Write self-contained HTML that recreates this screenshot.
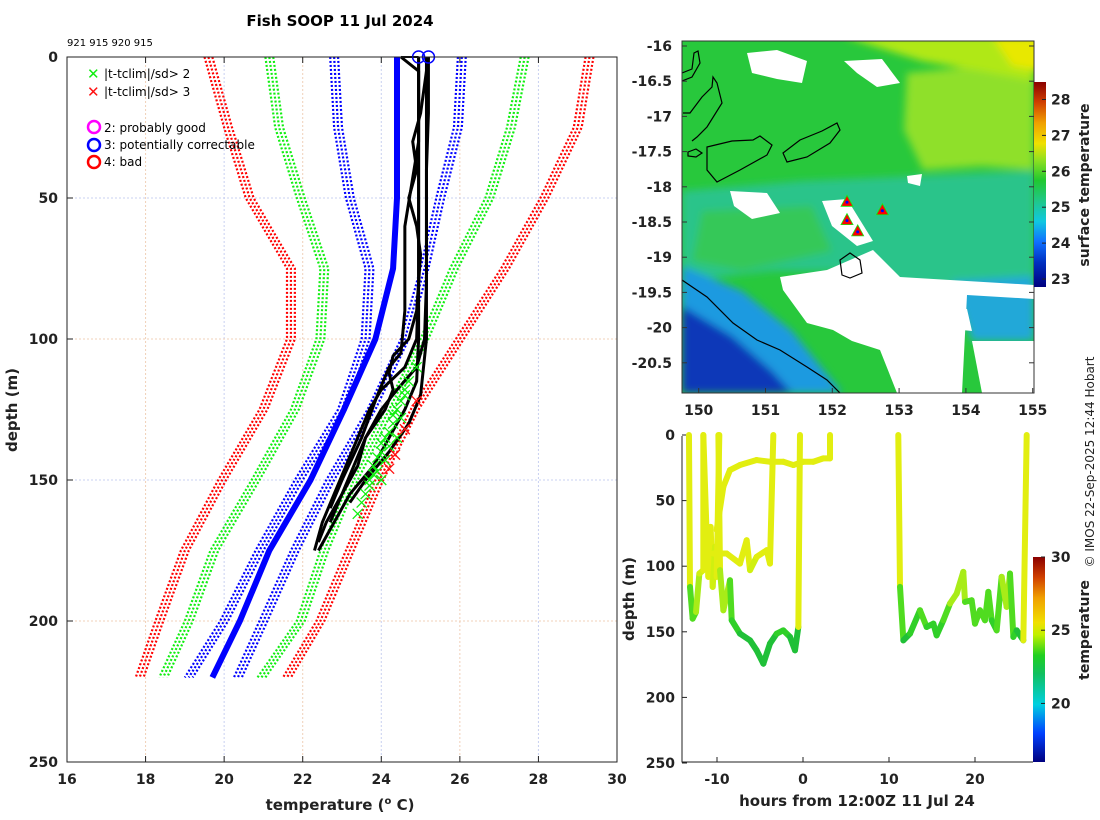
<!DOCTYPE html>
<html><head><meta charset="utf-8"><style>
html,body{margin:0;padding:0;background:#fff;}
svg{display:block;font-family:"DejaVu Sans","Liberation Sans",sans-serif;}
.tk{font-weight:bold;font-size:14px;fill:#222;}
</style></head><body>
<svg id="s" width="1100" height="820" viewBox="0 0 1100 820">
<defs>
<linearGradient id="cbMap" x1="0" y1="1" x2="0" y2="0">
<stop offset="0" stop-color="#00007f"/><stop offset="0.12" stop-color="#0030c0"/><stop offset="0.22" stop-color="#1070ff"/>
<stop offset="0.32" stop-color="#10c8e0"/><stop offset="0.42" stop-color="#20c888"/><stop offset="0.52" stop-color="#20c830"/>
<stop offset="0.62" stop-color="#90e020"/><stop offset="0.7" stop-color="#f0e000"/><stop offset="0.8" stop-color="#f0a000"/>
<stop offset="0.9" stop-color="#d04000"/><stop offset="1" stop-color="#8a0000"/></linearGradient>
<linearGradient id="cbT" x1="0" y1="1" x2="0" y2="0">
<stop offset="0" stop-color="#00007f"/><stop offset="0.14" stop-color="#0040ff"/><stop offset="0.28" stop-color="#00d0e0"/>
<stop offset="0.43" stop-color="#10c060"/><stop offset="0.52" stop-color="#20d020"/><stop offset="0.62" stop-color="#c0f000"/>
<stop offset="0.68" stop-color="#f0e000"/><stop offset="0.8" stop-color="#f0a000"/><stop offset="0.9" stop-color="#d04000"/>
<stop offset="1" stop-color="#8a0000"/></linearGradient>
<clipPath id="mapClip"><rect x="682" y="41" width="352" height="352"/></clipPath>
<filter id="soft"><feGaussianBlur stdDeviation="4"/></filter>
</defs>

<text x="340" y="26" text-anchor="middle" font-weight="bold" font-size="15">Fish SOOP 11 Jul 2024</text>
<text x="67" y="46" font-size="10">921 915 920 915</text>
<text transform="translate(17,410) rotate(-90)" text-anchor="middle" font-weight="bold" font-size="15" fill="#222">depth (m)</text>
<text x="340" y="810" text-anchor="middle" font-weight="bold" font-size="15" fill="#222">temperature (<tspan dy="-6" font-size="10">o</tspan><tspan dy="6"> C)</tspan></text>

<g id="left"></g>
<g id="legend">
 <text x="87" y="79" fill="#1e1" font-size="15" font-weight="bold">✕</text>
 <text x="104" y="78" font-size="12">|t-tclim|/sd&gt; 2</text>
 <text x="87" y="97" fill="#f11" font-size="15" font-weight="bold">✕</text>
 <text x="104" y="96" font-size="12">|t-tclim|/sd&gt; 3</text>
 <circle cx="94" cy="127" r="6" fill="none" stroke="#f0f" stroke-width="2.5"/>
 <text x="104" y="132" font-size="12">2: probably good</text>
 <circle cx="94" cy="145" r="6" fill="none" stroke="#00f" stroke-width="2.5"/>
 <text x="104" y="149" font-size="12">3: potentially correctable</text>
 <circle cx="94" cy="162" r="6" fill="none" stroke="#f00" stroke-width="2.5"/>
 <text x="104" y="166" font-size="12">4: bad</text>
</g>

<g id="map">
 <g clip-path="url(#mapClip)">
  <rect x="682" y="41" width="352" height="352" fill="#28c83c"/>
  <g transform="translate(682,41)" filter="url(#soft)">
   <polygon points="0,150 120,140 352,130 352,260 250,262 180,230 90,230 0,240" fill="#2cc48a"/>
   <polygon points="20,170 130,165 150,210 60,230 10,220" fill="#34c858"/>
   <polygon points="225,32 352,20 352,129 300,125 241,129 222,89" fill="#8fe02a"/>
   <polygon points="160,-5 352,-5 352,40 300,30 240,20" fill="#b0e818"/>
   <polygon points="310,-5 360,-5 360,30 330,25" fill="#e8e800"/>
   <polygon points="0,225 60,250 110,290 160,352 0,352" fill="#1a9ae0"/>
   <polygon points="0,265 50,295 90,330 110,352 0,352" fill="#0838b8"/>
   <polygon points="270,240 352,235 352,300 290,300" fill="#20a8d8"/>
  </g>
  <g transform="translate(682,41)" fill="#fff">
   <polygon points="98,236 145,229 191,209 218,236 352,244 352,258 285,254 280,352 215,352 198,309 170,300 151,289 125,282 101,249"/>
   <polygon points="230,262 285,268 290,290 240,285"/>
   <polygon points="290,300 352,300 352,352 300,352"/>
   <polygon points="65,12 95,9 125,20 120,42 95,38 70,32"/>
   <polygon points="162,20 200,18 218,42 195,46 175,32"/>
   <polygon points="48,150 85,152 98,172 70,178 52,165"/>
   <polygon points="140,160 165,158 191,200 175,205 150,185"/>
   <polygon points="225,135 240,133 238,145 226,142"/>
  </g>
  <g transform="translate(682,41)" fill="none" stroke="#000" stroke-width="1.2">
   <polygon points="25,106 50,100 71,99 78,95 90,104 85,114 58,129 35,141 25,129"/>
   <polygon points="101,112 118,99 140,90 155,82 158,89 148,102 125,116 105,121"/>
   <polyline points="1,72 8,72 20,56 30,46 31,36 35,42 40,62 25,86 15,96 10,100"/>
   <polyline points="0,40 10,36 18,22 16,10 12,12 10,28 0,32"/>
   <polygon points="6,111 14,108 20,112 14,116 6,115"/>
   <polygon points="158,219 168,212 178,219 180,232 168,237 160,234"/>
   <polyline points="0,239 25,256 51,282 75,299 98,309 125,326 145,339 158,352"/>
  </g>
  <g id="tri"></g>
 </g>
 <rect x="682" y="41" width="352" height="352" fill="none" stroke="#333"/>
 <g id="mapTicks"></g>
 <rect x="1034" y="82" width="12" height="205" fill="url(#cbMap)"/>
 <g id="mapCb"></g>
 <text transform="translate(1089,185) rotate(-90)" text-anchor="middle" font-weight="bold" font-size="14" fill="#222">surface temperature</text>
</g>

<g id="br"></g>
<rect x="1033" y="557" width="12" height="205" fill="url(#cbT)"/>
<g id="tCb"></g>
<text transform="translate(1089,630) rotate(-90)" text-anchor="middle" font-weight="bold" font-size="14" fill="#222">temperature</text>
<text transform="translate(1094,462) rotate(-90)" text-anchor="middle" font-size="12" fill="#222">© IMOS 22-Sep-2025 12:44 Hobart</text>
</svg>
<script>
// ---------- data: left profile plot ----------
const envDepths = [0,25,50,75,100,125,150,175,200,220];
const redLeft   = [19.6,20.1,20.65,21.7,21.7,21.0,19.95,19.0,18.35,17.85];
const greenLeft = [21.15,21.4,21.95,22.55,22.45,21.8,20.8,19.75,19.1,18.45];
const blueLeft  = [22.8,22.9,23.2,23.7,23.6,23.0,21.9,20.9,20.0,19.1];
const climMean  = [24.4,24.4,24.4,24.3,23.85,23.05,22.2,21.15,20.4,19.7];
const blueRight = [26.05,25.95,25.5,25.1,24.6,23.75,22.7,21.8,21.0,20.35];
const greenRight= [27.65,27.3,26.75,25.85,25.1,24.2,23.3,22.55,21.95,20.95];
const redRight  = [29.3,29.0,28.15,27.15,26.0,24.85,23.95,23.2,22.45,21.6];
const profDepths = [
 [0,20,40,60,80,100,110,118,125,135,145,155,165,172],
 [0,20,40,60,80,100,110,118,125,135,145,155,165,175],
 [0,10,20,30,40,50,60,70,80,90,100,106,112,118,125,135,145,155,165],
 [0,5,30,60,90,105,110,120,135,150,160],
 [0,100,115,125,135,145,155,165,175],
 [0,100,120,130,140,150,158]];
const profTemps = [
 [25.2,25.2,25.15,25.15,25.15,25.1,24.9,24.4,24.0,23.6,23.3,23.0,22.6,22.4],
 [24.95,24.95,24.95,24.95,24.95,24.9,24.6,24.0,23.7,23.4,23.1,22.8,22.5,22.3],
 [25.2,25.1,25.0,24.8,24.9,24.7,24.9,25.0,24.95,24.9,24.7,24.3,24.2,24.3,24.1,23.6,23.4,23.0,22.7],
 [24.5,24.95,24.95,24.6,24.6,24.5,24.2,23.9,23.5,23.0,22.7],
 [24.95,24.95,24.9,24.6,24.2,23.8,23.2,22.8,22.4],
 [25.15,25.15,25.0,24.7,24.2,23.6,23.2]];
const flag2T = [24.9,24.7,24.6,24.5,24.4,24.3,24.3,24.2,24.1,24.0,24.0,23.9,23.8,23.8,23.7,23.6,24.4,24.2,24.1,23.9,23.7,24.6,24.5,23.5,23.4,24.0];
const flag2D = [110,115,118,122,125,127,130,133,135,137,140,142,145,148,150,155,135,138,143,147,152,120,128,158,162,150];
const flag3T = [24.9,24.6,24.35,24.2];
const flag3D = [122,132,141,146];
const qcT = [24.95,25.2];
const qcD = [0,0];
const xTicks = [16,18,20,22,24,26,28,30];
const yTicks = [0,50,100,150,200,250];
// ---------- data: map ----------
const lonTicks = [150,151,152,153,154,155];
const latTicks = [-16,-16.5,-17,-17.5,-18,-18.5,-19,-19.5,-20,-20.5];
const dropLon = [152.22,152.22,152.38,152.75];
const dropLat = [-18.22,-18.48,-18.64,-18.34];
const sstTicks = [23,24,25,26,27,28];
// ---------- data: depth-time ----------
const hTicks = [-10,0,10,20];
const dTicks = [0,50,100,150,200,250];
const tcbTicks = [20,25,30];
const trackHours = [
 [-13.26,-13.14,-12.83,-12.44,-12.05,-11.59,-11.59],
 [-11.59,-11.20,-11.01,-10.74,-10.50,-10.23,-10.04,-9.73],
 [-10.04,-9.26,-8.49,-7.33,-5.39,-3.84,-2.29,-1.12,0.04,1.20,2.36,3.14,3.14],
 [-10.43,-8.88,-7.33,-6.55,-6.16,-5.39,-4.22,-3.84,-3.45],
 [-9.84,-9.65,-9.26,-8.49,-8.29,-7.33,-6.16,-5.39,-4.61,-3.84,-3.06,-2.29,-1.51,-0.93,-0.54,-0.35],
 [11.08,11.28,11.67,12.44,13.6,14.38,15.16,15.54,16.32,17.09,17.87,18.64,18.84,19.61,20.0,20.58,21.16,21.55,21.94,22.52,23.1,23.68,24.07,24.46,24.85,25.62,26.01]];
const trackDepths = [
 [0,115.8,140,134.9,105.6,103,0],
 [0,77.6,108.1,70,115.8,85.2,108.1,0],
 [72.5,39.4,26.7,22.9,19.1,20.4,20.4,22.9,20.4,20.4,17.8,17.8,0],
 [90.3,90.3,98,80.2,103,92.9,87.8,98,0],
 [0,103,133.6,110.7,141.2,151.4,156.5,164.1,174.3,159,151.4,148.9,153.9,164.1,146.3,0],
 [0,115.8,156.5,151.4,133.6,146.3,143.8,152.7,141.2,128.5,120.9,104.3,127.2,126,143.8,133.6,141.2,119.6,141.2,148.9,108.1,131,105.6,153.9,148.9,156.5,0]];

// ---------- helpers ----------
const NS='http://www.w3.org/2000/svg';
function mk(parent,tag,attrs){const e=document.createElementNS(NS,tag);for(const k in attrs)e.setAttribute(k,attrs[k]);parent.appendChild(e);return e;}
const xL=t=>67+(t-16)*39.2857, yL=d=>57+d*2.82;
const xM=lon=>682+(lon-149.75)*66.8, yM=lat=>46+(-16-lat)*70.4;
const xH=h=>803+8.6*h, yH=d=>435+1.312*d;
const yMapCb=t=>279-(t-23)*35.9, yTCb=t=>762-(t-16)*(205/14);

// ---------- left plot ----------
const L=document.getElementById('left');
let r=mk(L,'rect',{x:67,y:57,width:550,height:705,fill:'#fff',stroke:'none'});


xTicks.forEach(t=>{
 let g=mk(L,'line',{x1:xL(t),x2:xL(t),y1:57,y2:762,stroke:(t%4==0)?'#c8d0f0':'#f0d0b8','stroke-dasharray':'2 2','stroke-width':1});
 
 
 let tk=mk(L,'line',{x1:xL(t),x2:xL(t),y1:762,y2:756,stroke:'#222'});
 
 
 let tk2=mk(L,'line',{x1:xL(t),x2:xL(t),y1:57,y2:63,stroke:'#222'});
 
 
 let lb=mk(L,'text',{x:xL(t),y:784,'text-anchor':'middle','class':'tk'});lb.textContent=t;
 
 
});
yTicks.forEach(d=>{
 let g=mk(L,'line',{x1:67,x2:617,y1:yL(d),y2:yL(d),stroke:(d%100==0)?'#f0d0b8':'#c8d0f0','stroke-dasharray':'2 2'});
 
 
 let tk=mk(L,'line',{x1:67,x2:73,y1:yL(d),y2:yL(d),stroke:'#222'});
 
 
 let lb=mk(L,'text',{x:58,y:yL(d)+5,'text-anchor':'end','class':'tk'});lb.textContent=d;
 
 
});
function envelope(arr,color,name){
 [-0.1,0,0.1].forEach(off=>{
  const pts=envDepths.map((d,i)=>xL(arr[i]+off)+','+yL(d)).join(' ');
  let p=mk(L,'polyline',{points:pts,fill:'none',stroke:color,'stroke-width':2.2,'stroke-dasharray':'2 2'});
  
  
 });
}
envelope(redLeft,'#f00','clim-minus-3sd');
envelope(greenLeft,'#1e1','clim-minus-2sd');
envelope(blueLeft,'#00f','clim-minus-1sd');
envelope(blueRight,'#00f','clim-plus-1sd');
envelope(greenRight,'#1e1','clim-plus-2sd');
envelope(redRight,'#f00','clim-plus-3sd');
let cm=mk(L,'polyline',{points:envDepths.map((d,i)=>xL(climMean[i])+','+yL(d)).join(' '),fill:'none',stroke:'#00f','stroke-width':6});


let tail=mk(L,'line',{x1:xL(24.5),x2:xL(24.95),y1:yL(0),y2:yL(0),stroke:'#000','stroke-width':2});


profDepths.forEach((ds,k)=>{
 let p=mk(L,'polyline',{points:ds.map((d,i)=>xL(profTemps[k][i])+','+yL(d)).join(' '),fill:'none',stroke:'#000','stroke-width':3,'stroke-linejoin':'round'});
 
 
});
function cross(x,y,c,s,name){
 let g=mk(L,'path',{d:`M${x-s},${y-s}L${x+s},${y+s}M${x-s},${y+s}L${x+s},${y-s}`,stroke:c,'stroke-width':1.3,fill:'none'});
 
 
}
flag2T.forEach((t,i)=>cross(xL(t),yL(flag2D[i]),'#1e1',5,'flag-2sd-marker'));
flag3T.forEach((t,i)=>cross(xL(t),yL(flag3D[i]),'#f11',5,'flag-3sd-marker'));
qcT.forEach((t,i)=>{
 let c=mk(L,'circle',{cx:xL(t),cy:yL(qcD[i]),r:6,fill:'none',stroke:'#00f','stroke-width':1.5});
 
 
});
let fr=mk(L,'rect',{x:67,y:57,width:550,height:705,fill:'none',stroke:'#222','stroke-width':1});



// ---------- map ticks & markers ----------
const MT=document.getElementById('mapTicks');
lonTicks.forEach(l=>{
 let g=mk(MT,'line',{x1:xM(l),x2:xM(l),y1:393,y2:388,stroke:'#333'});
 
 
 let t=mk(MT,'text',{x:xM(l),y:415,'text-anchor':'middle','class':'tk'});t.textContent=l;
 
 
});
latTicks.forEach(l=>{
 let g=mk(MT,'line',{x1:682,x2:687,y1:yM(l),y2:yM(l),stroke:'#333'});
 
 
 let g2=mk(MT,'line',{x1:1034,x2:1029,y1:yM(l),y2:yM(l),stroke:'#333'});
 
 
 let t=mk(MT,'text',{x:672,y:yM(l)+5,'text-anchor':'end','class':'tk'});t.textContent=l;
 
 
});
const TR=document.getElementById('tri');
dropLon.forEach((lo,i)=>{
 const x=xM(lo),y=yM(dropLat[i]);
 let p=mk(TR,'polygon',{points:`${x},${y-7} ${x+6},${y+4} ${x-6},${y+4}`,fill:'#f00',stroke:'#1e1','stroke-width':0.8});
 
 
 let c=mk(TR,'circle',{cx:x,cy:y,r:1.5,fill:'#00f'});
 
 
});
const MC=document.getElementById('mapCb');
sstTicks.forEach(t=>{
 let g=mk(MC,'line',{x1:1046,x2:1042,y1:yMapCb(t),y2:yMapCb(t),stroke:'#222'});
 
 
 let tx=mk(MC,'text',{x:1051,y:yMapCb(t)+5,'class':'tk'});tx.textContent=t;
 
 
});

// ---------- depth-time plot ----------
const B=document.getElementById('br');
hTicks.forEach(h=>{
 let g=mk(B,'line',{x1:xH(h),x2:xH(h),y1:762,y2:757,stroke:'#222'});
 
 
 let t=mk(B,'text',{x:xH(h),y:784,'text-anchor':'middle','class':'tk'});t.textContent=h;
 
 
});
dTicks.forEach(d=>{
 let g=mk(B,'line',{x1:682,x2:687,y1:yH(d),y2:yH(d),stroke:'#222'});
 
 
 let t=mk(B,'text',{x:675,y:yH(d)+5,'text-anchor':'end','class':'tk'});t.textContent=d;
 
 
});
function tempColor(d){return d<95?'#e2ee10':d<112?'#d0f010':d<125?'#a8ec18':d<140?'#50dc20':d<152?'#30d028':'#20c038';}
trackHours.forEach((hs,k)=>{
 for(let i=0;i<hs.length-1;i++){
  const dm=(trackDepths[k][i]+trackDepths[k][i+1])/2;
  let s=mk(B,'line',{x1:xH(hs[i]),y1:yH(trackDepths[k][i]),x2:xH(hs[i+1]),y2:yH(trackDepths[k][i+1]),stroke:tempColor(dm),'stroke-width':6,'stroke-linecap':'round'});
  
  
 }
});
let ax=mk(B,'path',{d:'M682,436 L682,762 L1033,762',fill:'none',stroke:'#222'});


let xt=mk(B,'text',{x:857,y:806,'text-anchor':'middle','font-weight':'bold','font-size':15,fill:'#222'});xt.textContent='hours from 12:00Z 11 Jul 24';


let yt=mk(B,'text',{transform:'translate(634,599) rotate(-90)','text-anchor':'middle','font-weight':'bold','font-size':15,fill:'#222'});yt.textContent='depth (m)';


const TC=document.getElementById('tCb');
tcbTicks.forEach(t=>{
 let g=mk(TC,'line',{x1:1045,x2:1041,y1:yTCb(t),y2:yTCb(t),stroke:'#222'});
 
 
 let tx=mk(TC,'text',{x:1051,y:yTCb(t)+5,'class':'tk'});tx.textContent=t;
 
 
});
</script>
</body></html>
